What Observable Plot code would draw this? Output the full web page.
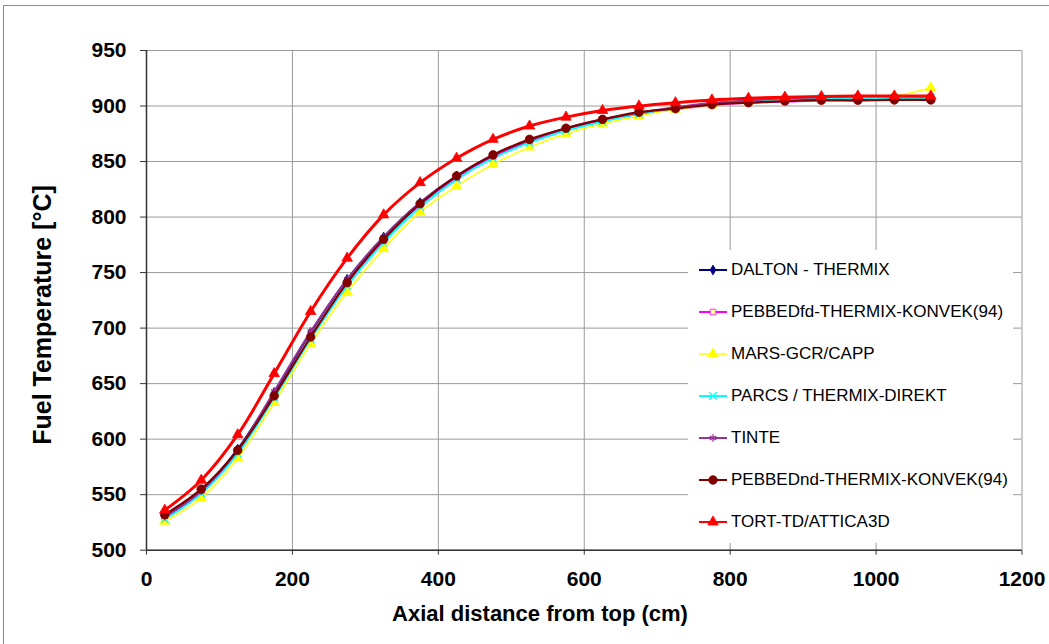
<!DOCTYPE html>
<html><head><meta charset="utf-8">
<script src="https://cdn.jsdelivr.net/npm/d3@7"></script>
<script src="https://cdn.jsdelivr.net/npm/@observablehq/plot@0.6"></script>
<style>
body{margin:0;width:1049px;height:644px;overflow:hidden;background:#fff;position:relative;font-family:"Liberation Sans",Arial,sans-serif;}
#frame{position:absolute;left:3px;top:5px;width:1100px;height:700px;border:1px solid #8c8c8c;}
#chart{position:absolute;left:0;top:0;}
.title{position:absolute;font-weight:bold;color:#000;white-space:nowrap;}
#xt{left:540px;top:614px;font-size:22px;transform:translate(-50%,-50%);}
#yt{left:42px;top:315px;font-size:25px;transform:translate(-50%,-50%) rotate(-90deg);}
#legend{position:absolute;left:688px;top:250px;width:325px;height:293px;background:#fff;}
.row{position:absolute;left:11px;height:20px;display:flex;align-items:center;font-size:17px;color:#000;white-space:nowrap;}
.row svg{margin-right:4px;}
</style></head><body>
<div id="frame"></div>
<div id="chart"></div>
<div class="title" id="xt">Axial distance from top (cm)</div>
<div class="title" id="yt">Fuel Temperature [°C]</div>
<div id="legend"></div>
<script>
// ---- data ----
const distance = [25, 75, 125, 175, 225, 275, 325, 375, 425, 475, 525, 575, 625, 675, 725, 775, 825, 875, 925, 975, 1025, 1075];
const daltonThermix = [531, 554, 591, 642, 696, 744, 782, 813, 837, 855, 868, 879, 887, 893, 898, 902, 904, 906, 907, 907, 907, 907];
const pebbedFd = [529, 552, 588, 638, 691, 740, 779, 811, 835, 854, 868, 879, 887, 893, 897, 901, 903, 904, 905, 905, 906, 906];
const marsGcr = [526, 547, 583, 633, 686, 732.5, 771.5, 804.5, 828, 847.5, 863, 875, 884, 891, 897, 901, 904, 906, 907, 908, 909, 916.5];
const parcsThermix = [528, 551, 587, 637, 690, 738, 777, 809, 834, 853, 867, 878, 886, 893, 898, 902, 905, 906, 907, 907, 907, 907];
const tinte = [530, 553, 590, 643, 697, 744, 782, 813, 837, 856, 869, 880, 888, 894, 899, 903, 905, 907, 908, 909, 909, 909];
const pebbedNd = [532, 555, 590, 639, 692, 741, 780, 812, 837, 856, 870, 880, 888, 894.5, 897.7, 901.3, 903, 904.5, 905.2, 905.2, 905.5, 905.5];
const tortTd = [536, 563, 604, 659, 715, 763, 802, 831, 853, 870, 882, 890, 896, 900, 903, 905.5, 907, 908, 908.5, 909, 909, 909];
const seriesNames = ["DALTON - THERMIX", "PEBBEDfd-THERMIX-KONVEK(94)", "MARS-GCR/CAPP", "PARCS / THERMIX-DIREKT", "TINTE", "PEBBEDnd-THERMIX-KONVEK(94)", "TORT-TD/ATTICA3D"];
const xTicks = [0, 200, 400, 600, 800, 1000, 1200];
const yTicks = [500, 550, 600, 650, 700, 750, 800, 850, 900, 950];

// ---- styles ----
const seriesValues = [daltonThermix, pebbedFd, marsGcr, parcsThermix, tinte, pebbedNd, tortTd];
const styles = [
  {color:"#000080", symbol:"diamond", r:3, fill:"#000080", stroke:"#000080", sw:2},
  {color:"#ff00ff", symbol:"square", r:3.2, fill:"#ffff99", stroke:"#ff00ff", sw:2},
  {color:"#ffff00", symbol:"triangle", r:3.8, fill:"#ffff00", stroke:"#ffff00", sw:1.5},
  {color:"#00ffff", symbol:"times", r:3.5, fill:"none", stroke:"#00ffff", sw:2},
  {color:"#993399", symbol:"asterisk", r:3.5, fill:"none", stroke:"#993399", sw:2},
  {color:"#800000", symbol:"circle", r:4.3, fill:"#800000", stroke:"#800000", sw:2.25},
  {color:"#ff0000", symbol:"triangle", r:3.9, fill:"#ff0000", stroke:"#ff0000", sw:3}
];

const marks = [
  Plot.gridX(xTicks, {stroke:"#9a9a9a", strokeOpacity:1, strokeWidth:1}),
  Plot.gridY(yTicks, {stroke:"#9a9a9a", strokeOpacity:1, strokeWidth:1})
];
seriesNames.forEach((name, k) => {
  const st = styles[k];
  const rows = distance.map((d, i) => ({x: d, y: seriesValues[k][i]}));
  marks.push(Plot.line(rows, {x:"x", y:"y", stroke:st.color, strokeWidth:st.sw, curve:"catmull-rom"}));
  marks.push(Plot.dot(rows, {x:"x", y:"y", symbol:()=>st.symbol, r:st.r, fill:st.fill, stroke:st.stroke, strokeWidth: st.fill === "none" ? 1.3 : 0.8}));
});
marks.push(
  Plot.ruleX([0], {stroke:"#333", strokeWidth:1.5}),
  Plot.ruleY([500], {stroke:"#333", strokeWidth:1.5}),
  Plot.axisY(yTicks, {tickSize:6, tickPadding:14, stroke:"#333", fontSize:21, fontWeight:"bold", label:null, tickFormat:d3.format("d")}),
  Plot.axisX(xTicks, {tickSize:5, tickPadding:16, stroke:"#333", fontSize:21, fontWeight:"bold", label:null, tickFormat:d3.format("d")})
);

const chart = Plot.plot({
  width: 1049, height: 644,
  marginLeft: 146, marginRight: 27.5, marginTop: 50, marginBottom: 94.3,
  x: {domain:[0, 1200], type:"linear"},
  y: {domain:[500, 950], type:"linear"},
  symbol: {type:"identity"},
  style: {fontFamily:"'Liberation Sans', Arial, sans-serif", color:"#000", background:"transparent", overflow:"visible"},
  marks
});
document.getElementById("chart").appendChild(chart);

// ---- legend ----
const legend = document.getElementById("legend");
const symMap = {diamond:d3.symbolDiamond, square:d3.symbolSquare, triangle:d3.symbolTriangle, times:d3.symbolTimes, asterisk:d3.symbolAsterisk, circle:d3.symbolCircle};
seriesNames.forEach((name, k) => {
  const st = styles[k];
  const row = document.createElement("div");
  row.className = "row";
  row.style.top = (10 + 42 * k) + "px";
  const path = d3.symbol(symMap[st.symbol], Math.PI * st.r * st.r)();
  row.innerHTML = `<svg width="28" height="14"><line x1="0" x2="28" y1="7" y2="7" stroke="${st.color}" stroke-width="${Math.min(st.sw,2)}"/><path transform="translate(14,7)" d="${path}" fill="${st.fill}" stroke="${st.stroke}" stroke-width="${st.fill==='none'?1.3:0.8}"/></svg><span>${name}</span>`;
  legend.appendChild(row);
});
</script>
</body></html>
